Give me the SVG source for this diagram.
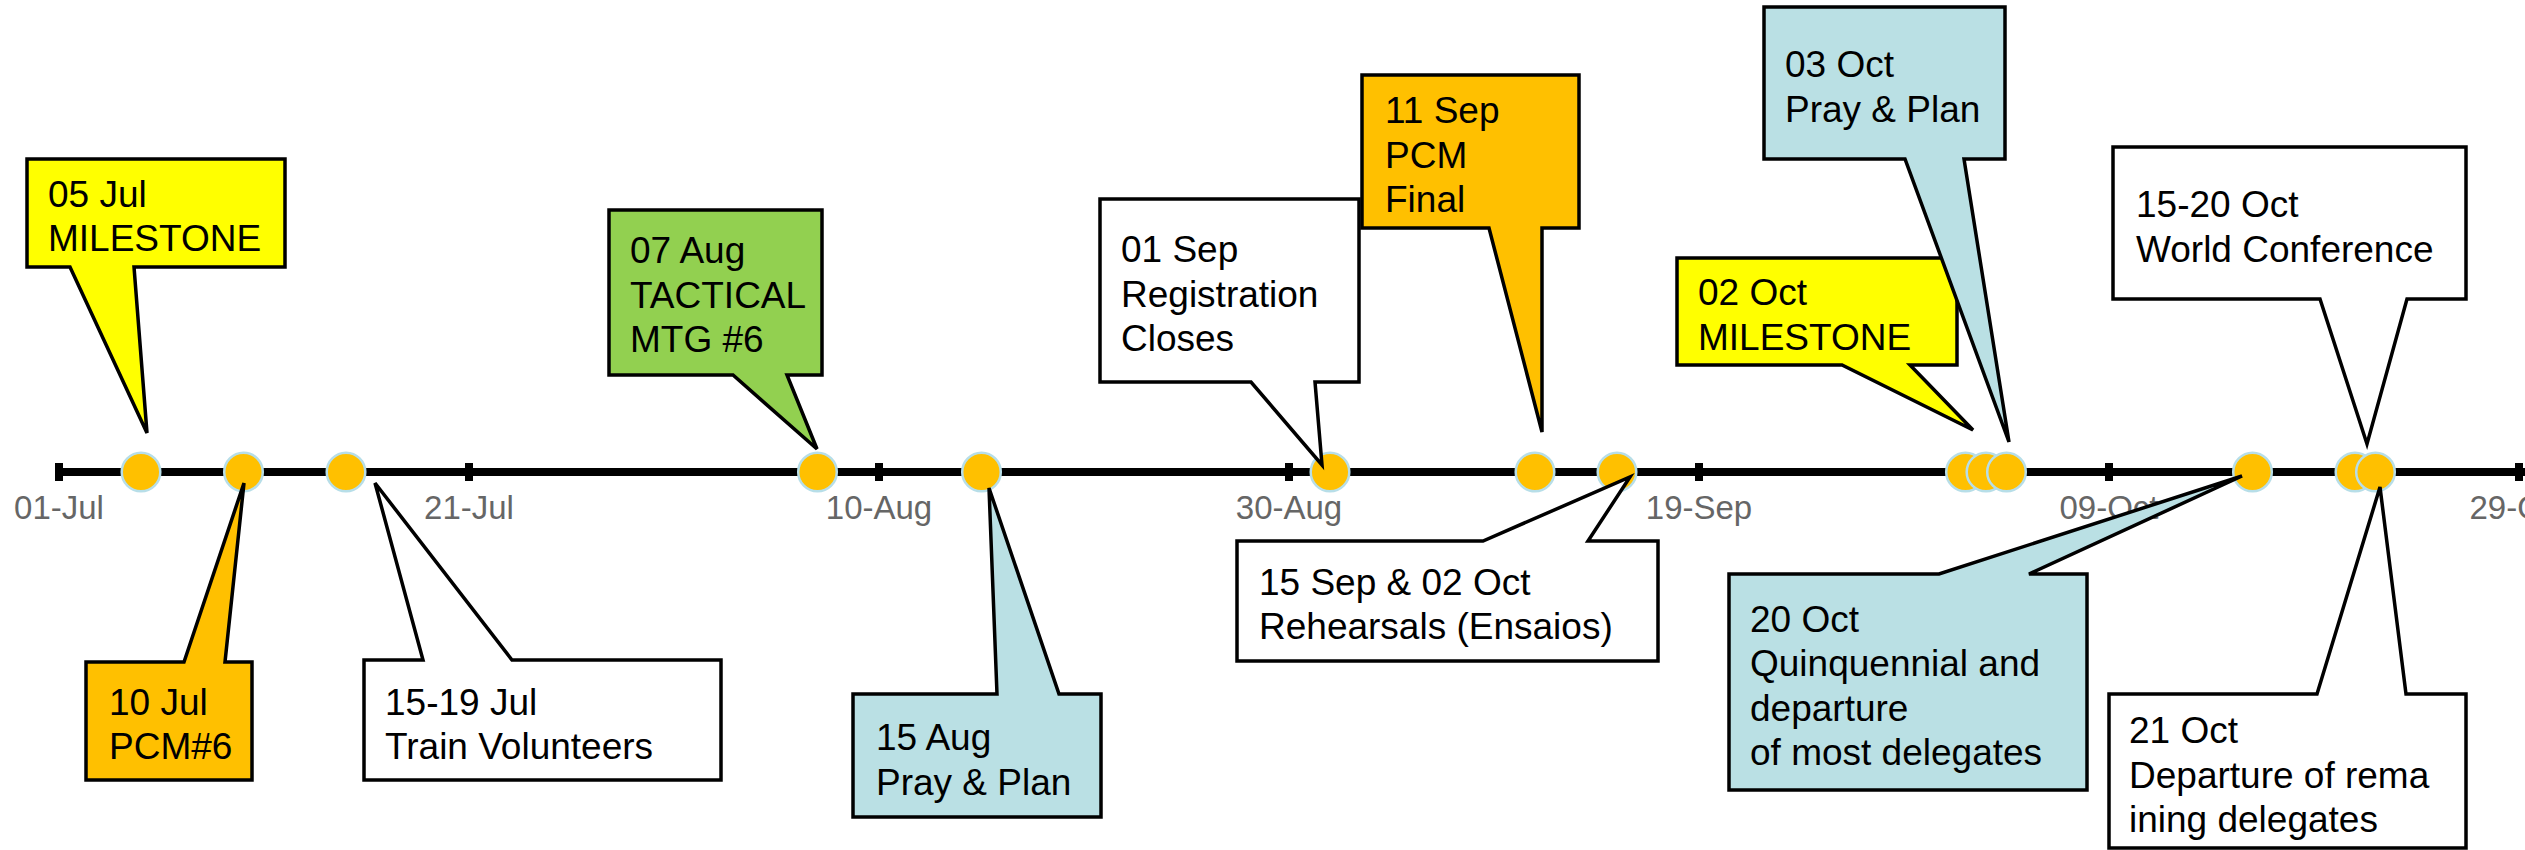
<svg xmlns="http://www.w3.org/2000/svg" width="2525" height="850" viewBox="0 0 2525 850">
<style>
.bg{fill:#ffffff}
.axis{stroke:#000;stroke-width:8;fill:none}
.tick{fill:#000}
.tl{font-family:"Liberation Sans",Arial,sans-serif;font-size:33px;fill:#666666;text-anchor:middle}
.dot{fill:#FFC000;stroke:#B7DEE8;stroke-width:2.5}
.co{stroke:#000;stroke-width:3.5;stroke-linejoin:miter}
.y{fill:#FFFF00}.o{fill:#FFC000}.g{fill:#92D050}.b{fill:#BAE0E4}.w{fill:#FFFFFF}
.t{font-family:"Liberation Sans",Arial,sans-serif;font-size:37px;fill:#000}
</style>
<rect class="bg" x="0" y="0" width="2525" height="850"/>
<g id="axis">
<line class="axis" x1="59" y1="472" x2="2525" y2="472"/>
<rect class="tick" x="55" y="463" width="8" height="18"/>
<rect class="tick" x="465" y="463" width="8" height="18"/>
<rect class="tick" x="875" y="463" width="8" height="18"/>
<rect class="tick" x="1285" y="463" width="8" height="18"/>
<rect class="tick" x="1695" y="463" width="8" height="18"/>
<rect class="tick" x="2105" y="463" width="8" height="18"/>
<rect class="tick" x="2515" y="463" width="8" height="18"/>
<text class="tl" x="59" y="519">01-Jul</text>
<text class="tl" x="469" y="519">21-Jul</text>
<text class="tl" x="879" y="519">10-Aug</text>
<text class="tl" x="1289" y="519">30-Aug</text>
<text class="tl" x="1699" y="519">19-Sep</text>
<text class="tl" x="2109" y="519">09-Oct</text>
<text class="tl" x="2519" y="519">29-Oct</text>
</g>
<g id="markers">
<circle class="dot" cx="141" cy="472" r="19.3"/>
<circle class="dot" cx="243.5" cy="472" r="19.3"/>
<circle class="dot" cx="346" cy="472" r="19.3"/>
<circle class="dot" cx="817.5" cy="472" r="19.3"/>
<circle class="dot" cx="981.5" cy="472" r="19.3"/>
<circle class="dot" cx="1330" cy="472" r="19.3"/>
<circle class="dot" cx="1535" cy="472" r="19.3"/>
<circle class="dot" cx="1617" cy="472" r="19.3"/>
<circle class="dot" cx="1965.5" cy="472" r="19.3"/>
<circle class="dot" cx="1986" cy="472" r="19.3"/>
<circle class="dot" cx="2006.5" cy="472" r="19.3"/>
<circle class="dot" cx="2252.5" cy="472" r="19.3"/>
<circle class="dot" cx="2355" cy="472" r="19.3"/>
<circle class="dot" cx="2375.5" cy="472" r="19.3"/>
</g>
<g id="connectors"></g>
<g id="c-05jul">
<polygon class="co y" points="27,159 285,159 285,267 134,267 147,433 70,267 27,267"/>
<text class="t" x="48" y="207">05 Jul</text>
<text class="t" x="48" y="251">MILESTONE</text>
</g>
<g id="c-10jul">
<polygon class="co o" points="86,662 184,662 244,483 225,662 252,662 252,780 86,780"/>
<text class="t" x="109" y="715">10 Jul</text>
<text class="t" x="109" y="759">PCM#6</text>
</g>
<g id="c-15jul">
<polygon class="co w" points="364,660 423,660 375,483 512,660 721,660 721,780 364,780"/>
<text class="t" x="385" y="715">15-19 Jul</text>
<text class="t" x="385" y="759">Train Volunteers</text>
</g>
<g id="c-07aug">
<polygon class="co g" points="609,210 822,210 822,375 787,375 817,449 733,375 609,375"/>
<text class="t" x="630" y="263">07 Aug</text>
<text class="t" x="630" y="308">TACTICAL</text>
<text class="t" x="630" y="352">MTG #6</text>
</g>
<g id="c-15aug">
<polygon class="co b" points="853,694 997,694 989,488 1059,694 1101,694 1101,817 853,817"/>
<text class="t" x="876" y="750">15 Aug</text>
<text class="t" x="876" y="795">Pray &amp; Plan</text>
</g>
<g id="c-01sep">
<polygon class="co w" points="1100,199 1359,199 1359,382 1315,382 1322,465 1251,382 1100,382"/>
<text class="t" x="1121" y="262">01 Sep</text>
<text class="t" x="1121" y="307">Registration</text>
<text class="t" x="1121" y="351">Closes</text>
</g>
<g id="c-11sep">
<polygon class="co o" points="1362,75 1579,75 1579,228 1542,228 1542,432 1489,228 1362,228"/>
<text class="t" x="1385" y="123">11 Sep</text>
<text class="t" x="1385" y="168">PCM</text>
<text class="t" x="1385" y="212">Final</text>
</g>
<g id="c-15sep">
<polygon class="co w" points="1237,541 1483,541 1630,477 1588,541 1658,541 1658,661 1237,661"/>
<text class="t" x="1259" y="595">15 Sep &amp; 02 Oct</text>
<text class="t" x="1259" y="639">Rehearsals (Ensaios)</text>
</g>
<g id="c-02oct">
<polygon class="co y" points="1677,258 1957,258 1957,365 1910,365 1973,430 1842,365 1677,365"/>
<text class="t" x="1698" y="305">02 Oct</text>
<text class="t" x="1698" y="350">MILESTONE</text>
</g>
<g id="c-03oct">
<polygon class="co b" points="1764,7 2005,7 2005,159 1964,159 2009,442 1905,159 1764,159"/>
<text class="t" x="1785" y="77">03 Oct</text>
<text class="t" x="1785" y="122">Pray &amp; Plan</text>
</g>
<g id="c-1520oct">
<polygon class="co w" points="2113,147 2466,147 2466,299 2407,299 2367,444 2320,299 2113,299"/>
<text class="t" x="2136" y="217">15-20 Oct</text>
<text class="t" x="2136" y="262">World Conference</text>
</g>
<g id="c-20oct">
<polygon class="co b" points="1729,574 1939,574 2242,476 2029,574 2087,574 2087,790 1729,790"/>
<text class="t" x="1750" y="632">20 Oct</text>
<text class="t" x="1750" y="676">Quinquennial and</text>
<text class="t" x="1750" y="721">departure</text>
<text class="t" x="1750" y="765">of most delegates</text>
</g>
<g id="c-21oct">
<polygon class="co w" points="2109,694 2317,694 2380,487 2406,694 2466,694 2466,848 2109,848"/>
<text class="t" x="2129" y="743">21 Oct</text>
<text class="t" x="2129" y="788">Departure of rema</text>
<text class="t" x="2129" y="832">ining delegates</text>
</g>
</svg>
